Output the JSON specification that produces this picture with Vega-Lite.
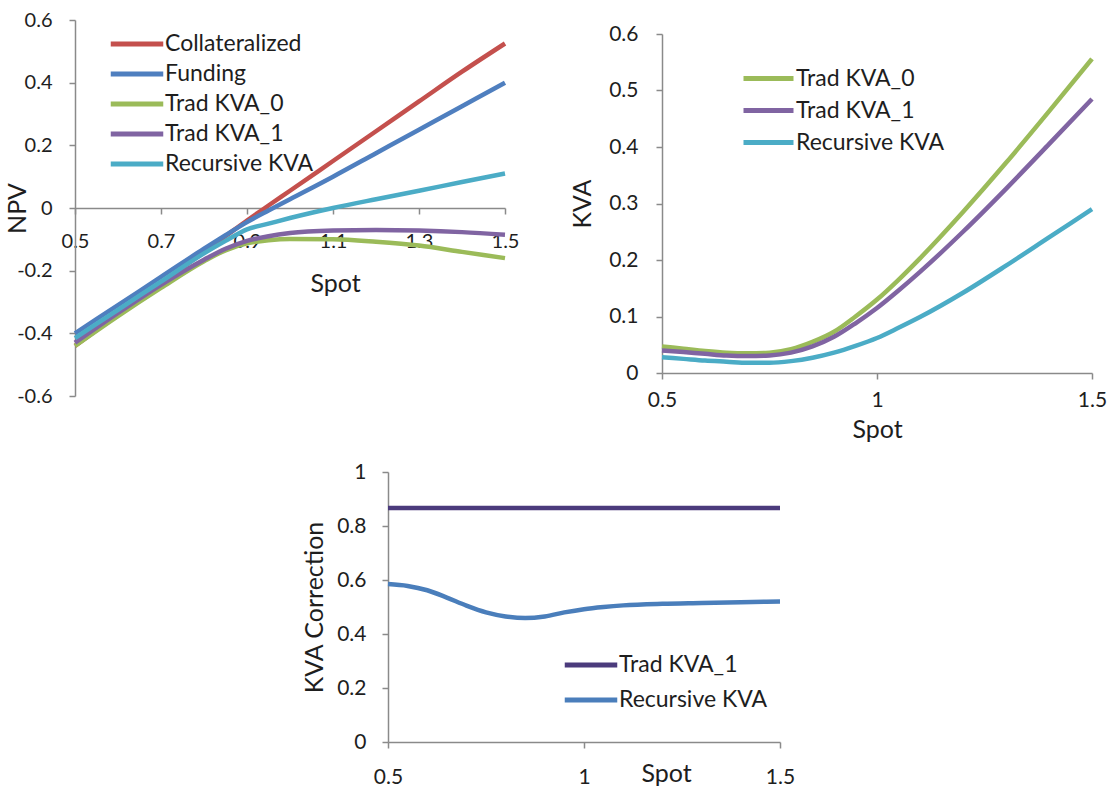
{
  "$schema": "https://vega.github.io/schema/vega-lite/v6.json",
  "padding": {"left": 5, "top": 10, "right": 0, "bottom": 0},
  "background": "white",
  "config": {
    "view": {"stroke": null},
    "font": "Lato",
    "axis": {
      "labelFont": "Lato", "labelFontSize": 21, "labelColor": "#1e1e1e",
      "titleFont": "Lato", "titleFontSize": 25, "titleFontWeight": "normal", "titleColor": "#1e1e1e",
      "domainColor": "#8a8a8a", "domainWidth": 1.5, "tickColor": "#8a8a8a", "tickWidth": 1.5, "tickSize": 6,
      "grid": false, "labelFlush": false, "labelOverlap": false
    },
    "legend": {"labelFont": "Lato", "labelFontSize": 23, "labelColor": "#1e1e1e", "padding": 0}
  },
  "datasets": {
    "npv": [
      {"spot": 0.5, "series": "Collateralized", "v": -0.44},
      {"spot": 0.6, "series": "Collateralized", "v": -0.34},
      {"spot": 0.7, "series": "Collateralized", "v": -0.24},
      {"spot": 0.8, "series": "Collateralized", "v": -0.14},
      {"spot": 0.85, "series": "Collateralized", "v": -0.09},
      {"spot": 0.9, "series": "Collateralized", "v": -0.04},
      {"spot": 0.95, "series": "Collateralized", "v": 0.008},
      {"spot": 1.0, "series": "Collateralized", "v": 0.055},
      {"spot": 1.1, "series": "Collateralized", "v": 0.15},
      {"spot": 1.2, "series": "Collateralized", "v": 0.245},
      {"spot": 1.3, "series": "Collateralized", "v": 0.34},
      {"spot": 1.4, "series": "Collateralized", "v": 0.435},
      {"spot": 1.5, "series": "Collateralized", "v": 0.525},
      {"spot": 0.5, "series": "Funding", "v": -0.4},
      {"spot": 0.6, "series": "Funding", "v": -0.31},
      {"spot": 0.7, "series": "Funding", "v": -0.22},
      {"spot": 0.8, "series": "Funding", "v": -0.13},
      {"spot": 0.85, "series": "Funding", "v": -0.087},
      {"spot": 0.9, "series": "Funding", "v": -0.045},
      {"spot": 0.95, "series": "Funding", "v": -0.008},
      {"spot": 1.0, "series": "Funding", "v": 0.028},
      {"spot": 1.1, "series": "Funding", "v": 0.1},
      {"spot": 1.2, "series": "Funding", "v": 0.175},
      {"spot": 1.3, "series": "Funding", "v": 0.25},
      {"spot": 1.4, "series": "Funding", "v": 0.325},
      {"spot": 1.5, "series": "Funding", "v": 0.4},
      {"spot": 0.5, "series": "Trad KVA_0", "v": -0.44},
      {"spot": 0.6, "series": "Trad KVA_0", "v": -0.345},
      {"spot": 0.7, "series": "Trad KVA_0", "v": -0.255},
      {"spot": 0.8, "series": "Trad KVA_0", "v": -0.17},
      {"spot": 0.85, "series": "Trad KVA_0", "v": -0.135},
      {"spot": 0.9, "series": "Trad KVA_0", "v": -0.113},
      {"spot": 0.95, "series": "Trad KVA_0", "v": -0.103},
      {"spot": 1.0, "series": "Trad KVA_0", "v": -0.099},
      {"spot": 1.1, "series": "Trad KVA_0", "v": -0.1},
      {"spot": 1.2, "series": "Trad KVA_0", "v": -0.108},
      {"spot": 1.3, "series": "Trad KVA_0", "v": -0.12},
      {"spot": 1.4, "series": "Trad KVA_0", "v": -0.14},
      {"spot": 1.5, "series": "Trad KVA_0", "v": -0.16},
      {"spot": 0.5, "series": "Trad KVA_1", "v": -0.43},
      {"spot": 0.6, "series": "Trad KVA_1", "v": -0.335},
      {"spot": 0.7, "series": "Trad KVA_1", "v": -0.245},
      {"spot": 0.8, "series": "Trad KVA_1", "v": -0.165},
      {"spot": 0.85, "series": "Trad KVA_1", "v": -0.13},
      {"spot": 0.9, "series": "Trad KVA_1", "v": -0.105},
      {"spot": 0.95, "series": "Trad KVA_1", "v": -0.09},
      {"spot": 1.0, "series": "Trad KVA_1", "v": -0.08},
      {"spot": 1.1, "series": "Trad KVA_1", "v": -0.072},
      {"spot": 1.2, "series": "Trad KVA_1", "v": -0.07},
      {"spot": 1.3, "series": "Trad KVA_1", "v": -0.072},
      {"spot": 1.4, "series": "Trad KVA_1", "v": -0.077},
      {"spot": 1.5, "series": "Trad KVA_1", "v": -0.085},
      {"spot": 0.5, "series": "Recursive KVA", "v": -0.415},
      {"spot": 0.6, "series": "Recursive KVA", "v": -0.325},
      {"spot": 0.7, "series": "Recursive KVA", "v": -0.235},
      {"spot": 0.8, "series": "Recursive KVA", "v": -0.145},
      {"spot": 0.85, "series": "Recursive KVA", "v": -0.105},
      {"spot": 0.9, "series": "Recursive KVA", "v": -0.068},
      {"spot": 0.95, "series": "Recursive KVA", "v": -0.05},
      {"spot": 1.0, "series": "Recursive KVA", "v": -0.032},
      {"spot": 1.1, "series": "Recursive KVA", "v": 0.0},
      {"spot": 1.2, "series": "Recursive KVA", "v": 0.028},
      {"spot": 1.3, "series": "Recursive KVA", "v": 0.055},
      {"spot": 1.4, "series": "Recursive KVA", "v": 0.083},
      {"spot": 1.5, "series": "Recursive KVA", "v": 0.11}
    ],
    "kva": [
      {"spot": 0.5, "series": "Trad KVA_0", "v": 0.047},
      {"spot": 0.55, "series": "Trad KVA_0", "v": 0.043},
      {"spot": 0.6, "series": "Trad KVA_0", "v": 0.039},
      {"spot": 0.65, "series": "Trad KVA_0", "v": 0.036},
      {"spot": 0.7, "series": "Trad KVA_0", "v": 0.035},
      {"spot": 0.75, "series": "Trad KVA_0", "v": 0.036},
      {"spot": 0.8, "series": "Trad KVA_0", "v": 0.042},
      {"spot": 0.85, "series": "Trad KVA_0", "v": 0.055},
      {"spot": 0.9, "series": "Trad KVA_0", "v": 0.073},
      {"spot": 0.95, "series": "Trad KVA_0", "v": 0.1},
      {"spot": 1.0, "series": "Trad KVA_0", "v": 0.13},
      {"spot": 1.05, "series": "Trad KVA_0", "v": 0.165},
      {"spot": 1.1, "series": "Trad KVA_0", "v": 0.203},
      {"spot": 1.2, "series": "Trad KVA_0", "v": 0.285},
      {"spot": 1.3, "series": "Trad KVA_0", "v": 0.372},
      {"spot": 1.4, "series": "Trad KVA_0", "v": 0.463},
      {"spot": 1.5, "series": "Trad KVA_0", "v": 0.556},
      {"spot": 0.5, "series": "Trad KVA_1", "v": 0.04},
      {"spot": 0.55, "series": "Trad KVA_1", "v": 0.037},
      {"spot": 0.6, "series": "Trad KVA_1", "v": 0.034},
      {"spot": 0.65, "series": "Trad KVA_1", "v": 0.031},
      {"spot": 0.7, "series": "Trad KVA_1", "v": 0.03},
      {"spot": 0.75, "series": "Trad KVA_1", "v": 0.031},
      {"spot": 0.8, "series": "Trad KVA_1", "v": 0.036},
      {"spot": 0.85, "series": "Trad KVA_1", "v": 0.047},
      {"spot": 0.9, "series": "Trad KVA_1", "v": 0.064},
      {"spot": 0.95, "series": "Trad KVA_1", "v": 0.088},
      {"spot": 1.0, "series": "Trad KVA_1", "v": 0.115},
      {"spot": 1.05, "series": "Trad KVA_1", "v": 0.146},
      {"spot": 1.1, "series": "Trad KVA_1", "v": 0.179},
      {"spot": 1.2, "series": "Trad KVA_1", "v": 0.25},
      {"spot": 1.3, "series": "Trad KVA_1", "v": 0.326},
      {"spot": 1.4, "series": "Trad KVA_1", "v": 0.405},
      {"spot": 1.5, "series": "Trad KVA_1", "v": 0.485},
      {"spot": 0.5, "series": "Recursive KVA", "v": 0.028},
      {"spot": 0.55, "series": "Recursive KVA", "v": 0.025},
      {"spot": 0.6, "series": "Recursive KVA", "v": 0.022},
      {"spot": 0.65, "series": "Recursive KVA", "v": 0.02},
      {"spot": 0.7, "series": "Recursive KVA", "v": 0.018},
      {"spot": 0.75, "series": "Recursive KVA", "v": 0.018},
      {"spot": 0.8, "series": "Recursive KVA", "v": 0.021},
      {"spot": 0.85, "series": "Recursive KVA", "v": 0.027},
      {"spot": 0.9, "series": "Recursive KVA", "v": 0.036},
      {"spot": 0.95, "series": "Recursive KVA", "v": 0.048},
      {"spot": 1.0, "series": "Recursive KVA", "v": 0.062},
      {"spot": 1.05, "series": "Recursive KVA", "v": 0.08},
      {"spot": 1.1, "series": "Recursive KVA", "v": 0.099},
      {"spot": 1.2, "series": "Recursive KVA", "v": 0.142},
      {"spot": 1.3, "series": "Recursive KVA", "v": 0.19},
      {"spot": 1.4, "series": "Recursive KVA", "v": 0.24},
      {"spot": 1.5, "series": "Recursive KVA", "v": 0.29}
    ],
    "corr": [
      {"spot": 0.5, "series": "Trad KVA_1", "v": 0.867},
      {"spot": 1.0, "series": "Trad KVA_1", "v": 0.867},
      {"spot": 1.5, "series": "Trad KVA_1", "v": 0.867},
      {"spot": 0.5, "series": "Recursive KVA", "v": 0.585},
      {"spot": 0.55, "series": "Recursive KVA", "v": 0.578},
      {"spot": 0.6, "series": "Recursive KVA", "v": 0.562},
      {"spot": 0.65, "series": "Recursive KVA", "v": 0.535},
      {"spot": 0.7, "series": "Recursive KVA", "v": 0.505},
      {"spot": 0.75, "series": "Recursive KVA", "v": 0.48},
      {"spot": 0.8, "series": "Recursive KVA", "v": 0.465},
      {"spot": 0.85, "series": "Recursive KVA", "v": 0.459},
      {"spot": 0.9, "series": "Recursive KVA", "v": 0.465},
      {"spot": 0.95, "series": "Recursive KVA", "v": 0.48},
      {"spot": 1.0, "series": "Recursive KVA", "v": 0.492},
      {"spot": 1.05, "series": "Recursive KVA", "v": 0.5},
      {"spot": 1.1, "series": "Recursive KVA", "v": 0.506},
      {"spot": 1.2, "series": "Recursive KVA", "v": 0.512},
      {"spot": 1.3, "series": "Recursive KVA", "v": 0.515},
      {"spot": 1.4, "series": "Recursive KVA", "v": 0.518},
      {"spot": 1.5, "series": "Recursive KVA", "v": 0.52}
    ]
  },
  "bounds": "flush",
  "spacing": 452,
  "resolve": {"scale": {"color": "independent"}},
  "vconcat": [
    {
      "bounds": "flush",
      "spacing": 157,
      "resolve": {"scale": {"color": "independent"}},
      "hconcat": [
        {
          "width": 430,
          "height": 376,
          "data": {"name": "npv"},
          "mark": {"type": "line", "interpolate": "monotone", "strokeWidth": 4.5},
          "encoding": {
            "x": {
              "field": "spot", "type": "quantitative",
              "scale": {"domain": [0.5, 1.5], "nice": false, "zero": false},
              "axis": {"values": [0.5, 0.7, 0.9, 1.1, 1.3, 1.5], "format": ".1f", "offset": -188,
                       "title": "Spot", "titleX": 260, "titleY": 83, "titleBaseline": "alphabetic", "titleAlign": "center",
                       "labelPadding": 17, "labelFontSize": 20}
            },
            "y": {
              "field": "v", "type": "quantitative",
              "scale": {"domain": [-0.6, 0.6], "nice": false, "zero": false},
              "axis": {"values": [-0.6, -0.4, -0.2, 0, 0.2, 0.4, 0.6], "labelExpr": "'' + round(datum.value * 10) / 10",
                       "title": "NPV", "titleX": -50, "titleBaseline": "alphabetic", "labelPadding": 17, "labelFontSize": 20}
            },
            "color": {
              "field": "series", "type": "nominal",
              "scale": {"domain": ["Collateralized", "Funding", "Trad KVA_0", "Trad KVA_1", "Recursive KVA"],
                        "range": ["#C4504D", "#4F7FBF", "#9BBB59", "#8064A2", "#4BACC6"]},
              "legend": {"orient": "none", "legendX": 49, "legendY": 11, "title": null,
                         "symbolType": "M-2.5,0H2.5", "symbolSize": 441, "symbolStrokeWidth": 5,
                         "labelOffset": 15, "rowPadding": 5}
            }
          }
        },
        {
          "bounds": "flush",
          "spacing": 0,
          "resolve": {"scale": {"color": "independent"}},
          "vconcat": [
            {"width": 430, "height": 14, "data": {"values": []}, "mark": "point"},
            {
              "width": 430,
              "height": 339,
              "data": {"name": "kva"},
              "mark": {"type": "line", "interpolate": "monotone", "strokeWidth": 4.5},
              "encoding": {
                "x": {
                  "field": "spot", "type": "quantitative",
                  "scale": {"domain": [0.5, 1.5], "nice": false, "zero": false},
                  "axis": {"values": [0.5, 1, 1.5], "format": "~g", "title": "Spot",
                           "titleY": 64, "titleBaseline": "alphabetic", "labelPadding": 10}
                },
                "y": {
                  "field": "v", "type": "quantitative",
                  "scale": {"domain": [0, 0.6], "nice": false},
                  "axis": {"values": [0, 0.1, 0.2, 0.3, 0.4, 0.5, 0.6], "format": "~g",
                           "title": "KVA", "titleX": -72, "titleBaseline": "alphabetic", "labelPadding": 18}
                },
                "color": {
                  "field": "series", "type": "nominal",
                  "scale": {"domain": ["Trad KVA_0", "Trad KVA_1", "Recursive KVA"],
                            "range": ["#9BBB59", "#8064A2", "#4BACC6"]},
                  "legend": {"orient": "none", "legendX": 94, "legendY": 32, "title": null,
                             "symbolType": "M-2.5,0H2.5", "symbolSize": 400, "symbolStrokeWidth": 5,
                             "labelOffset": 15, "rowPadding": 7}
                }
              }
            }
          ]
        }
      ]
    },
    {
      "bounds": "flush",
      "spacing": 0,
      "resolve": {"scale": {"color": "independent"}},
      "hconcat": [
        {"width": 313, "height": 270, "data": {"values": []}, "mark": "point"},
        {
          "width": 392,
          "height": 270,
          "data": {"name": "corr"},
          "mark": {"type": "line", "interpolate": "monotone", "strokeWidth": 4.5},
          "encoding": {
            "x": {
              "field": "spot", "type": "quantitative",
              "scale": {"domain": [0.5, 1.5], "nice": false, "zero": false},
              "axis": {"values": [0.5, 1, 1.5], "format": "~g", "title": "Spot",
                       "titleX": 278, "titleY": 39, "titleBaseline": "alphabetic", "labelPadding": 18}
            },
            "y": {
              "field": "v", "type": "quantitative",
              "scale": {"domain": [0, 1], "nice": false},
              "axis": {"values": [0, 0.2, 0.4, 0.6, 0.8, 1], "format": "~g",
                       "title": "KVA Correction", "titleX": -66, "titleBaseline": "alphabetic", "labelPadding": 16}
            },
            "color": {
              "field": "series", "type": "nominal",
              "scale": {"domain": ["Trad KVA_1", "Recursive KVA"], "range": ["#4B3B7C", "#4A7EBB"]},
              "legend": {"orient": "none", "legendX": 190, "legendY": 180, "title": null,
                         "symbolType": "M-2.5,0H2.5", "symbolSize": 441, "symbolStrokeWidth": 5,
                         "labelOffset": 15, "rowPadding": 10}
            }
          }
        }
      ]
    }
  ]
}
